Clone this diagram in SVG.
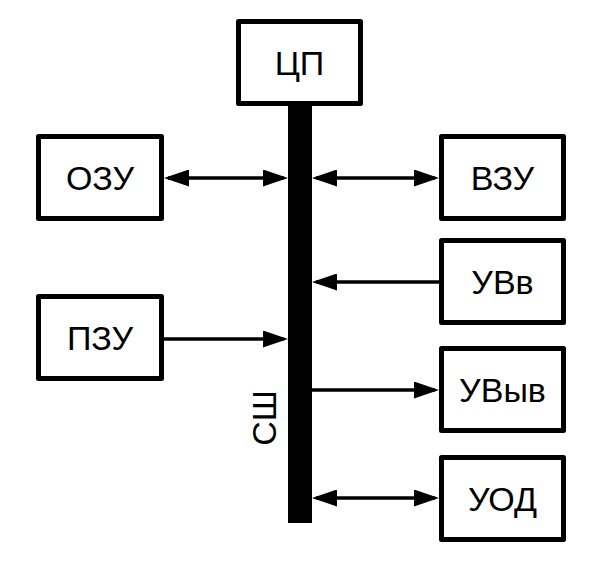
<svg xmlns="http://www.w3.org/2000/svg" width="608" height="567" viewBox="0 0 608 567">
  <style>
    .box { fill: #ffffff; stroke: #000000; stroke-width: 5; stroke-linejoin: round; }
    .lbl { font-family: "Liberation Sans", Arial, sans-serif; font-size: 34px; fill: #000000; text-anchor: middle; }
    .conn { stroke: #000000; stroke-width: 3.5; fill: none; }
  </style>
  <defs>
    <marker id="ah" viewBox="0 0 25 17" refX="21" refY="8.5" markerWidth="25" markerHeight="17" markerUnits="userSpaceOnUse" orient="auto-start-reverse">
      <path d="M0,0 L25,8.5 L0,17 z" fill="#000000"/>
    </marker>
  </defs>
  <rect width="608" height="567" fill="#ffffff"/>

  <g id="bus">
    <rect x="288" y="104" width="24" height="419" fill="#000000"/>
    <text class="lbl" transform="translate(276,418) rotate(-90)">СШ</text>
  </g>

  <g id="connectors">
    <line class="conn" x1="168" y1="178" x2="284" y2="178" marker-start="url(#ah)" marker-end="url(#ah)"/>
    <line class="conn" x1="316" y1="178" x2="435" y2="178" marker-start="url(#ah)" marker-end="url(#ah)"/>
    <line class="conn" x1="439" y1="282" x2="316" y2="282" marker-end="url(#ah)"/>
    <line class="conn" x1="164" y1="339" x2="284" y2="339" marker-end="url(#ah)"/>
    <line class="conn" x1="312" y1="390" x2="435" y2="390" marker-end="url(#ah)"/>
    <line class="conn" x1="316" y1="498" x2="435" y2="498" marker-start="url(#ah)" marker-end="url(#ah)"/>
  </g>

  <g id="cp">
    <rect class="box" x="238.5" y="21.5" width="122" height="82"/>
    <text class="lbl" x="299.5" y="75">ЦП</text>
  </g>
  <g id="ozu">
    <rect class="box" x="38.5" y="136.5" width="123" height="82"/>
    <text class="lbl" x="100" y="190">ОЗУ</text>
  </g>
  <g id="pzu">
    <rect class="box" x="38.5" y="296.5" width="123" height="82"/>
    <text class="lbl" x="100" y="350">ПЗУ</text>
  </g>
  <g id="vzu">
    <rect class="box" x="441.5" y="136.5" width="122" height="82"/>
    <text class="lbl" x="502.5" y="190">ВЗУ</text>
  </g>
  <g id="uvv">
    <rect class="box" x="441.5" y="240.5" width="122" height="82"/>
    <text class="lbl" x="502.5" y="294">УВв</text>
  </g>
  <g id="uvyv">
    <rect class="box" x="441.5" y="348.5" width="122" height="82"/>
    <text class="lbl" x="502.5" y="402">УВыв</text>
  </g>
  <g id="uod">
    <rect class="box" x="441.5" y="457.5" width="122" height="82"/>
    <text class="lbl" x="502.5" y="511">УОД</text>
  </g>
</svg>
